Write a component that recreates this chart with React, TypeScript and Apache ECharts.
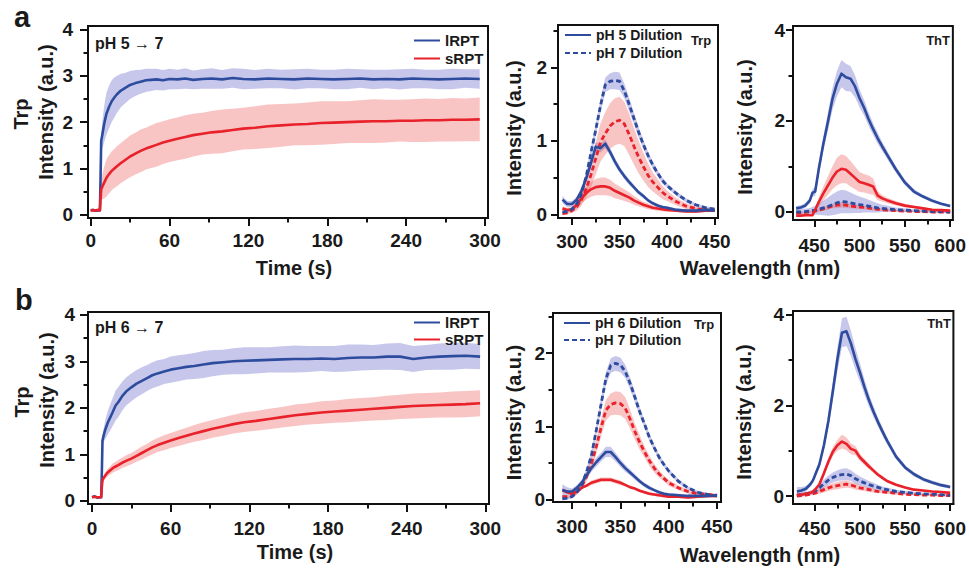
import React, { useEffect, useRef } from 'react';
import * as echarts from 'echarts';

const FONT = 'Arial, "Liberation Sans", Helvetica, sans-serif';
const BLUE = '#2e4c9e';
const RED = '#e8212a';
const BLUE_BAND = 'rgba(100,100,200,0.36)';
const RED_BAND = 'rgba(235,70,70,0.32)';
const INK = '#1a1a1a';

// ---------------- tick labels ----------------
const timeTicks = [0, 60, 120, 180, 240, 300];
const timeMinor = [30, 90, 150, 210, 270];
const kinTicks = [0, 1, 2, 3, 4];
const kinMinor = [0.5, 1.5, 2.5, 3.5];
const trpWlTicks = [300, 350, 400, 450];
const trpWlMinor = [325, 375, 425];
const trpIntTicks = [0, 1, 2];
const trpIntMinor = [0.5, 1.5, 2.5];
const thtWlTicks = [450, 500, 550, 600];
const thtWlMinor = [475, 525, 575];
const thtIntTicks = [0, 2, 4];
const thtIntMinor = [1, 3];

// ---------------- kinetics (Trp intensity vs time) ----------------
const timeS = [0, 2, 4, 6, 7, 7.5, 8, 9, 10, 11, 12, 14, 16, 18, 20, 23, 26, 30, 34, 38, 42, 46, 50, 55, 60, 66, 72, 78, 85, 92, 100, 108, 116, 125, 135, 145, 155, 165, 175, 185, 195, 205, 215, 225, 235, 245, 255, 265, 275, 285, 296];

// pH 5 -> 7
const lrptA = [0.1, 0.11, 0.09, 0.1, 0.1, 0.8, 1.6, 1.75, 1.92, 2.06, 2.18, 2.33, 2.45, 2.53, 2.6, 2.68, 2.73, 2.8, 2.84, 2.87, 2.9, 2.91, 2.92, 2.9, 2.93, 2.92, 2.94, 2.91, 2.93, 2.94, 2.92, 2.95, 2.93, 2.92, 2.94, 2.93, 2.92, 2.94, 2.93, 2.92, 2.93, 2.94, 2.92, 2.93, 2.92, 2.94, 2.93, 2.92, 2.93, 2.94, 2.93];
const lrptAErr = [0.02, 0.02, 0.02, 0.02, 0.02, 0.05, 0.15, 0.3, 0.38, 0.42, 0.45, 0.46, 0.45, 0.43, 0.4, 0.36, 0.33, 0.3, 0.28, 0.26, 0.25, 0.24, 0.23, 0.22, 0.22, 0.21, 0.22, 0.2, 0.21, 0.22, 0.2, 0.21, 0.22, 0.2, 0.21, 0.2, 0.22, 0.21, 0.2, 0.21, 0.22, 0.2, 0.21, 0.2, 0.22, 0.21, 0.2, 0.21, 0.22, 0.2, 0.21];
const srptA = [0.1, 0.1, 0.1, 0.11, 0.1, 0.35, 0.55, 0.62, 0.68, 0.74, 0.8, 0.88, 0.95, 1.0, 1.05, 1.12, 1.18, 1.26, 1.32, 1.38, 1.43, 1.47, 1.51, 1.56, 1.6, 1.64, 1.68, 1.72, 1.75, 1.78, 1.8, 1.83, 1.86, 1.88, 1.91, 1.93, 1.95, 1.96, 1.98, 1.99, 2.0, 2.01, 2.02, 2.02, 2.03, 2.03, 2.04, 2.04, 2.05, 2.05, 2.06];
const srptAErr = [0.02, 0.02, 0.02, 0.02, 0.02, 0.08, 0.2, 0.28, 0.33, 0.37, 0.4, 0.41, 0.42, 0.42, 0.43, 0.43, 0.44, 0.45, 0.45, 0.46, 0.45, 0.46, 0.47, 0.46, 0.46, 0.46, 0.47, 0.46, 0.45, 0.46, 0.47, 0.46, 0.45, 0.46, 0.47, 0.46, 0.45, 0.46, 0.47, 0.46, 0.45, 0.46, 0.47, 0.46, 0.45, 0.46, 0.47, 0.46, 0.47, 0.46, 0.47];

// pH 6 -> 7
const lrptB = [0.08, 0.1, 0.07, 0.08, 0.08, 0.6, 1.3, 1.42, 1.52, 1.6, 1.68, 1.8, 1.92, 2.05, 2.12, 2.25, 2.35, 2.44, 2.52, 2.58, 2.64, 2.7, 2.74, 2.78, 2.82, 2.85, 2.88, 2.9, 2.93, 2.96, 2.98, 3.0, 3.01, 3.02, 3.03, 3.04, 3.05, 3.05, 3.06, 3.05, 3.07, 3.08, 3.08, 3.1, 3.1, 3.05, 3.08, 3.1, 3.11, 3.12, 3.1];
const lrptBErr = [0.02, 0.02, 0.02, 0.02, 0.02, 0.05, 0.1, 0.15, 0.2, 0.23, 0.25, 0.28, 0.3, 0.32, 0.32, 0.31, 0.3, 0.3, 0.29, 0.29, 0.28, 0.28, 0.28, 0.27, 0.28, 0.28, 0.27, 0.28, 0.29, 0.28, 0.27, 0.28, 0.29, 0.28, 0.27, 0.28, 0.29, 0.28, 0.27, 0.28, 0.29, 0.28, 0.27, 0.28, 0.29, 0.28, 0.27, 0.28, 0.29, 0.28, 0.27];
const srptB = [0.08, 0.09, 0.08, 0.08, 0.08, 0.3, 0.45, 0.5, 0.54, 0.58, 0.61, 0.66, 0.71, 0.74, 0.77, 0.82, 0.86, 0.91, 0.97, 1.03, 1.09, 1.15, 1.2, 1.25, 1.3, 1.35, 1.4, 1.45, 1.5, 1.55, 1.6, 1.65, 1.69, 1.72, 1.76, 1.8, 1.84, 1.87, 1.9, 1.92, 1.94, 1.96, 1.98, 2.0, 2.02, 2.04, 2.05, 2.06, 2.07, 2.08, 2.1];
const srptBErr = [0.02, 0.02, 0.02, 0.02, 0.02, 0.03, 0.05, 0.06, 0.07, 0.08, 0.08, 0.09, 0.1, 0.1, 0.11, 0.11, 0.12, 0.12, 0.13, 0.14, 0.14, 0.15, 0.15, 0.16, 0.16, 0.17, 0.17, 0.18, 0.19, 0.19, 0.2, 0.2, 0.21, 0.21, 0.22, 0.22, 0.23, 0.23, 0.24, 0.24, 0.25, 0.25, 0.25, 0.26, 0.26, 0.27, 0.27, 0.27, 0.28, 0.28, 0.28];

// ---------------- Trp emission spectra ----------------
const wlTrp = [290, 295, 300, 305, 310, 315, 320, 325, 330, 335, 340, 345, 350, 355, 360, 365, 370, 375, 380, 385, 390, 395, 400, 410, 420, 430, 440, 450];

const trpA_l5 = [0.2, 0.14, 0.14, 0.2, 0.32, 0.49, 0.7, 0.92, 0.9, 0.96, 0.85, 0.72, 0.61, 0.52, 0.44, 0.37, 0.3, 0.25, 0.19, 0.15, 0.12, 0.1, 0.09, 0.06, 0.05, 0.05, 0.06, 0.05];
const trpA_l5Err = [0.05, 0.04, 0.04, 0.04, 0.04, 0.05, 0.05, 0.06, 0.06, 0.06, 0.05, 0.05, 0.04, 0.04, 0.04, 0.03, 0.03, 0.03, 0.02, 0.02, 0.02, 0.02, 0.02, 0.02, 0.02, 0.03, 0.03, 0.02];
const trpA_l7 = [0.03, 0.04, 0.07, 0.14, 0.28, 0.52, 0.84, 1.15, 1.48, 1.76, 1.81, 1.82, 1.81, 1.68, 1.5, 1.31, 1.12, 0.95, 0.8, 0.67, 0.56, 0.46, 0.39, 0.28, 0.19, 0.13, 0.09, 0.07];
const trpA_l7Err = [0.02, 0.02, 0.02, 0.03, 0.04, 0.05, 0.07, 0.08, 0.09, 0.1, 0.11, 0.12, 0.12, 0.1, 0.09, 0.08, 0.07, 0.06, 0.05, 0.05, 0.04, 0.04, 0.03, 0.03, 0.03, 0.02, 0.02, 0.02];
const trpA_s5 = [0.08, 0.06, 0.07, 0.13, 0.22, 0.29, 0.34, 0.37, 0.38, 0.38, 0.36, 0.32, 0.29, 0.26, 0.23, 0.19, 0.16, 0.13, 0.11, 0.09, 0.08, 0.07, 0.06, 0.05, 0.04, 0.04, 0.05, 0.05];
const trpA_s5Err = [0.03, 0.03, 0.03, 0.05, 0.07, 0.09, 0.1, 0.11, 0.12, 0.12, 0.11, 0.1, 0.09, 0.08, 0.07, 0.06, 0.05, 0.04, 0.04, 0.03, 0.03, 0.03, 0.02, 0.02, 0.02, 0.02, 0.02, 0.02];
const trpA_s7 = [0.01, 0.02, 0.05, 0.1, 0.2, 0.35, 0.54, 0.76, 0.98, 1.1, 1.2, 1.26, 1.28, 1.23, 1.09, 0.93, 0.78, 0.65, 0.53, 0.44, 0.37, 0.3, 0.25, 0.17, 0.11, 0.08, 0.06, 0.05];
const trpA_s7Err = [0.02, 0.02, 0.03, 0.05, 0.08, 0.12, 0.17, 0.22, 0.26, 0.29, 0.31, 0.32, 0.32, 0.3, 0.28, 0.25, 0.22, 0.19, 0.16, 0.13, 0.11, 0.09, 0.07, 0.05, 0.04, 0.03, 0.02, 0.02];

const trpB_l6 = [0.13, 0.11, 0.11, 0.16, 0.23, 0.33, 0.43, 0.51, 0.58, 0.65, 0.65, 0.58, 0.5, 0.43, 0.37, 0.31, 0.25, 0.2, 0.16, 0.13, 0.1, 0.08, 0.07, 0.06, 0.05, 0.05, 0.05, 0.06];
const trpB_l6Err = [0.08, 0.06, 0.04, 0.04, 0.04, 0.05, 0.05, 0.06, 0.06, 0.07, 0.07, 0.06, 0.05, 0.05, 0.04, 0.04, 0.03, 0.03, 0.03, 0.02, 0.02, 0.02, 0.02, 0.02, 0.02, 0.02, 0.02, 0.02];
const trpB_l7 = [0.01, 0.02, 0.04, 0.1, 0.2, 0.38, 0.6, 0.94, 1.3, 1.65, 1.83, 1.86, 1.84, 1.75, 1.59, 1.4, 1.2, 1.03, 0.85, 0.71, 0.58, 0.48, 0.39, 0.25, 0.16, 0.1, 0.07, 0.05];
const trpB_l7Err = [0.02, 0.02, 0.02, 0.03, 0.04, 0.05, 0.06, 0.07, 0.08, 0.09, 0.1, 0.1, 0.1, 0.09, 0.08, 0.07, 0.06, 0.05, 0.05, 0.04, 0.04, 0.03, 0.03, 0.03, 0.02, 0.02, 0.02, 0.02];
const trpB_s6 = [0.13, 0.1, 0.08, 0.11, 0.16, 0.19, 0.23, 0.25, 0.27, 0.27, 0.27, 0.25, 0.23, 0.2, 0.17, 0.15, 0.12, 0.1, 0.08, 0.07, 0.06, 0.05, 0.04, 0.04, 0.03, 0.04, 0.05, 0.05];
const trpB_s6Err = [0.03, 0.02, 0.02, 0.02, 0.02, 0.02, 0.03, 0.03, 0.03, 0.03, 0.03, 0.03, 0.03, 0.02, 0.02, 0.02, 0.02, 0.02, 0.02, 0.02, 0.02, 0.02, 0.02, 0.02, 0.02, 0.02, 0.02, 0.02];
const trpB_s7 = [0.04, 0.04, 0.05, 0.1, 0.18, 0.31, 0.49, 0.72, 0.98, 1.22, 1.3, 1.32, 1.31, 1.25, 1.1, 0.93, 0.78, 0.65, 0.53, 0.43, 0.35, 0.29, 0.23, 0.16, 0.11, 0.08, 0.07, 0.06];
const trpB_s7Err = [0.02, 0.02, 0.02, 0.03, 0.04, 0.06, 0.08, 0.1, 0.12, 0.14, 0.15, 0.16, 0.16, 0.15, 0.13, 0.11, 0.1, 0.08, 0.07, 0.06, 0.05, 0.04, 0.04, 0.03, 0.03, 0.02, 0.02, 0.02];

// ---------------- ThT emission spectra ----------------
const wlThT = [430, 435, 440, 445, 448, 451, 455, 460, 465, 470, 475, 480, 485, 490, 495, 500, 505, 510, 515, 520, 525, 530, 540, 550, 560, 570, 580, 590, 600];

const thtA_l5 = [0.08, 0.1, 0.14, 0.25, 0.42, 0.45, 0.95, 1.5, 1.98, 2.48, 2.82, 3.04, 2.96, 2.93, 2.76, 2.5, 2.29, 2.04, 1.82, 1.62, 1.44, 1.27, 0.94, 0.65, 0.45, 0.34, 0.25, 0.18, 0.13];
const thtA_l5Err = [0.05, 0.05, 0.05, 0.06, 0.08, 0.1, 0.12, 0.15, 0.2, 0.24, 0.28, 0.3, 0.3, 0.28, 0.24, 0.2, 0.17, 0.15, 0.13, 0.12, 0.1, 0.09, 0.07, 0.06, 0.05, 0.04, 0.04, 0.03, 0.03];
const thtA_s5 = [-0.08, -0.08, -0.07, -0.07, -0.07, 0.05, 0.22, 0.41, 0.58, 0.75, 0.89, 0.95, 0.93, 0.84, 0.75, 0.66, 0.63, 0.6, 0.56, 0.36, 0.3, 0.26, 0.19, 0.14, 0.11, 0.08, 0.05, 0.04, 0.03];
const thtA_s5Err = [0.02, 0.02, 0.02, 0.02, 0.02, 0.05, 0.1, 0.15, 0.2, 0.25, 0.3, 0.32, 0.3, 0.28, 0.25, 0.22, 0.2, 0.2, 0.18, 0.1, 0.07, 0.06, 0.05, 0.04, 0.03, 0.03, 0.02, 0.02, 0.02];
const thtA_l7 = [0.0, 0.0, 0.01, 0.02, 0.03, 0.04, 0.06, 0.09, 0.12, 0.16, 0.2, 0.23, 0.22, 0.2, 0.18, 0.16, 0.15, 0.13, 0.11, 0.09, 0.08, 0.07, 0.05, 0.04, 0.03, 0.02, 0.01, 0.01, 0.0];
const thtA_l7Err = [0.04, 0.05, 0.06, 0.07, 0.08, 0.1, 0.12, 0.16, 0.2, 0.23, 0.25, 0.26, 0.25, 0.23, 0.2, 0.18, 0.16, 0.14, 0.12, 0.1, 0.08, 0.07, 0.05, 0.04, 0.03, 0.03, 0.02, 0.02, 0.02];
const thtA_s7 = [-0.03, -0.02, -0.01, 0.0, 0.01, 0.02, 0.04, 0.07, 0.1, 0.13, 0.15, 0.16, 0.15, 0.13, 0.12, 0.11, 0.1, 0.09, 0.07, 0.06, 0.05, 0.04, 0.03, 0.02, 0.01, 0.01, 0.0, 0.0, 0.0];
const thtA_s7Err = [0.02, 0.02, 0.02, 0.02, 0.02, 0.03, 0.03, 0.04, 0.05, 0.05, 0.06, 0.06, 0.06, 0.05, 0.05, 0.04, 0.04, 0.04, 0.03, 0.03, 0.03, 0.02, 0.02, 0.02, 0.02, 0.02, 0.02, 0.02, 0.02];

const thtB_l6 = [0.1, 0.12, 0.16, 0.26, 0.35, 0.5, 0.7, 1.12, 1.66, 2.33, 3.02, 3.6, 3.63, 3.36, 3.02, 2.72, 2.4, 2.11, 1.86, 1.63, 1.42, 1.22, 0.87, 0.63, 0.48, 0.37, 0.3, 0.24, 0.2];
const thtB_l6Err = [0.1, 0.08, 0.06, 0.05, 0.05, 0.06, 0.08, 0.1, 0.14, 0.2, 0.26, 0.32, 0.32, 0.28, 0.24, 0.2, 0.17, 0.14, 0.12, 0.1, 0.09, 0.08, 0.06, 0.05, 0.05, 0.04, 0.04, 0.04, 0.04];
const thtB_s6 = [0.02, 0.03, 0.05, 0.07, 0.1, 0.16, 0.26, 0.5, 0.76, 0.98, 1.12, 1.2, 1.15, 1.04, 1.0, 0.85, 0.75, 0.65, 0.56, 0.47, 0.4, 0.33, 0.25, 0.19, 0.14, 0.12, 0.1, 0.09, 0.07];
const thtB_s6Err = [0.02, 0.02, 0.02, 0.02, 0.02, 0.03, 0.04, 0.06, 0.08, 0.1, 0.12, 0.15, 0.14, 0.12, 0.1, 0.08, 0.07, 0.06, 0.05, 0.04, 0.04, 0.03, 0.03, 0.02, 0.02, 0.02, 0.02, 0.02, 0.02];
const thtB_l7 = [0.02, 0.03, 0.05, 0.07, 0.09, 0.12, 0.18, 0.27, 0.35, 0.41, 0.45, 0.47, 0.48, 0.45, 0.38, 0.33, 0.29, 0.25, 0.22, 0.19, 0.16, 0.14, 0.1, 0.08, 0.06, 0.05, 0.04, 0.03, 0.02];
const thtB_l7Err = [0.04, 0.04, 0.04, 0.05, 0.05, 0.06, 0.07, 0.09, 0.1, 0.11, 0.12, 0.13, 0.13, 0.12, 0.11, 0.1, 0.09, 0.08, 0.07, 0.06, 0.05, 0.05, 0.04, 0.03, 0.03, 0.02, 0.02, 0.02, 0.02];
const thtB_s7 = [0.0, 0.01, 0.02, 0.04, 0.05, 0.07, 0.1, 0.14, 0.18, 0.21, 0.23, 0.25, 0.26, 0.24, 0.21, 0.18, 0.16, 0.14, 0.12, 0.1, 0.09, 0.08, 0.06, 0.04, 0.03, 0.02, 0.02, 0.01, 0.01];
const thtB_s7Err = [0.02, 0.02, 0.02, 0.03, 0.03, 0.04, 0.05, 0.06, 0.07, 0.07, 0.08, 0.08, 0.08, 0.07, 0.07, 0.06, 0.05, 0.05, 0.04, 0.04, 0.03, 0.03, 0.03, 0.02, 0.02, 0.02, 0.02, 0.02, 0.02];

// ---------------- layout (plot areas in px) ----------------
const PANELS = [
  { left: 88, top: 26, width: 400, height: 192, x: [-2.05, 302.3], y: [-0.065, 4.07], xT: timeTicks, xM: timeMinor, yT: kinTicks, yM: kinMinor, yMargin: 15, xMargin: 12.5, tick: 8 },
  { left: 558, top: 25, width: 160, height: 193, x: [285.3, 453.5], y: [-0.05, 2.575], xT: trpWlTicks, xM: trpWlMinor, yT: trpIntTicks, yM: trpIntMinor, yMargin: 11, xMargin: 14, tick: 7 },
  { left: 793, top: 26, width: 160, height: 194, x: [426.5, 603], y: [-0.176, 4.088], xT: thtWlTicks, xM: thtWlMinor, yT: thtIntTicks, yM: thtIntMinor, yMargin: 8, xMargin: 15.5, tick: 7 },
  { left: 88, top: 312, width: 401, height: 192, x: [-3.05, 302.8], y: [-0.065, 4.058], xT: timeTicks, xM: timeMinor, yT: kinTicks, yM: kinMinor, yMargin: 13, xMargin: 15, tick: 8 },
  { left: 553, top: 313, width: 168, height: 189, x: [280.3, 454.1], y: [-0.033, 2.548], xT: trpWlTicks, xM: trpWlMinor, yT: trpIntTicks, yM: trpIntMinor, yMargin: 8, xMargin: 14.8, tick: 7 },
  { left: 793, top: 311, width: 163, height: 193, x: [425.7, 603.6], y: [-0.176, 4.079], xT: thtWlTicks, xM: thtWlMinor, yT: thtIntTicks, yM: thtIntMinor, yMargin: 9, xMargin: 15, tick: 7 },
];

function lineSeries(name: string, x: number[], y: number[], gi: number, color: string, dashed: boolean) {
  return {
    type: 'line',
    name,
    xAxisIndex: gi * 2,
    yAxisIndex: gi * 2,
    data: x.map((v, i) => [v, y[i]]),
    symbol: 'none',
    showSymbol: false,
    silent: true,
    z: 3,
    lineStyle: { color, width: dashed ? 2.8 : 2.6, type: dashed ? [5, 3] : 'solid', cap: 'butt', join: 'round' },
    itemStyle: { color },
    emphasis: { disabled: true },
  };
}

function bandSeries(x: number[], y: number[], err: number[], gi: number, color: string) {
  const data = x.map((v, i) => [v, y[i] - err[i], y[i] + err[i]]);
  return {
    type: 'custom',
    xAxisIndex: gi * 2,
    yAxisIndex: gi * 2,
    data,
    encode: { x: 0, y: [1, 2] },
    silent: true,
    clip: true,
    z: 1,
    renderItem: (params: any, api: any) => {
      if (params.dataIndex !== 0) return null;
      const upper = data.map((d) => api.coord([d[0], d[2]]));
      const lower = data.map((d) => api.coord([d[0], d[1]])).reverse();
      return {
        type: 'polygon',
        shape: { points: upper.concat(lower) },
        style: { fill: color, stroke: null },
      };
    },
  };
}

function txt(text: string, x: number, y: number, size: number, align = 'center', rot = 0) {
  return {
    type: 'text',
    x,
    y,
    rotation: rot,
    silent: true,
    z: 10,
    style: {
      text,
      fill: INK,
      font: `bold ${size}px ${FONT}`,
      textAlign: align,
      textVerticalAlign: 'middle',
      align,
      verticalAlign: 'middle',
    },
  };
}

function buildOption() {
  const grid: any[] = [];
  const xAxis: any[] = [];
  const yAxis: any[] = [];
  const labelStyle = { fontFamily: FONT, fontWeight: 'bold', fontSize: 19, color: INK };
  const tickLine = { color: '#111', width: 2 };
  PANELS.forEach((p, gi) => {
    grid.push({ left: p.left, top: p.top, width: p.width, height: p.height, show: true, borderColor: '#111', borderWidth: 2, backgroundColor: 'transparent' });
    // main x axis: line, labels, all ticks (short)
    xAxis.push({
      type: 'value', gridIndex: gi, min: p.x[0], max: p.x[1], position: 'bottom',
      axisLine: { show: true, onZero: false, lineStyle: { color: '#111', width: 2 } },
      axisTick: { show: true, inside: false, length: 4.5, customValues: p.xT.concat(p.xM), lineStyle: tickLine },
      axisLabel: { show: true, customValues: p.xT, margin: p.xMargin, ...labelStyle },
      splitLine: { show: false },
    });
    // companion x axis: long major ticks
    xAxis.push({
      type: 'value', gridIndex: gi, min: p.x[0], max: p.x[1], position: 'bottom',
      axisLine: { show: false, onZero: false },
      axisTick: { show: true, inside: false, length: p.tick, customValues: p.xT, lineStyle: tickLine },
      axisLabel: { show: false },
      splitLine: { show: false },
    });
    yAxis.push({
      type: 'value', gridIndex: gi, min: p.y[0], max: p.y[1], position: 'left',
      axisLine: { show: true, onZero: false, lineStyle: { color: '#111', width: 2 } },
      axisTick: { show: true, inside: false, length: 4.5, customValues: p.yT.concat(p.yM), lineStyle: tickLine },
      axisLabel: { show: true, customValues: p.yT, margin: p.yMargin, ...labelStyle },
      splitLine: { show: false },
    });
    yAxis.push({
      type: 'value', gridIndex: gi, min: p.y[0], max: p.y[1], position: 'left',
      axisLine: { show: false, onZero: false },
      axisTick: { show: true, inside: false, length: p.tick, customValues: p.yT, lineStyle: tickLine },
      axisLabel: { show: false },
      splitLine: { show: false },
    });
  });

  const series: any[] = [
    // panel a: kinetics
    bandSeries(timeS, lrptA, lrptAErr, 0, BLUE_BAND),
    bandSeries(timeS, srptA, srptAErr, 0, RED_BAND),
    lineSeries('lRPT', timeS, lrptA, 0, BLUE, false),
    lineSeries('sRPT', timeS, srptA, 0, RED, false),
    // panel a: Trp spectra
    bandSeries(wlTrp, trpA_l7, trpA_l7Err, 1, BLUE_BAND),
    bandSeries(wlTrp, trpA_l5, trpA_l5Err, 1, BLUE_BAND),
    bandSeries(wlTrp, trpA_s7, trpA_s7Err, 1, RED_BAND),
    bandSeries(wlTrp, trpA_s5, trpA_s5Err, 1, RED_BAND),
    lineSeries('sRPT pH 7 Dilution (a)', wlTrp, trpA_s7, 1, RED, true),
    lineSeries('sRPT pH 5 Dilution', wlTrp, trpA_s5, 1, RED, false),
    lineSeries('pH 7 Dilution', wlTrp, trpA_l7, 1, BLUE, true),
    lineSeries('pH 5 Dilution', wlTrp, trpA_l5, 1, BLUE, false),
    // panel a: ThT spectra
    bandSeries(wlThT, thtA_l5, thtA_l5Err, 2, BLUE_BAND),
    bandSeries(wlThT, thtA_l7, thtA_l7Err, 2, BLUE_BAND),
    bandSeries(wlThT, thtA_s5, thtA_s5Err, 2, RED_BAND),
    bandSeries(wlThT, thtA_s7, thtA_s7Err, 2, RED_BAND),
    lineSeries('ThT sRPT pH 7 (a)', wlThT, thtA_s7, 2, RED, true),
    lineSeries('ThT lRPT pH 7 (a)', wlThT, thtA_l7, 2, BLUE, true),
    lineSeries('ThT sRPT pH 5', wlThT, thtA_s5, 2, RED, false),
    lineSeries('ThT lRPT pH 5', wlThT, thtA_l5, 2, BLUE, false),
    // panel b: kinetics
    bandSeries(timeS, lrptB, lrptBErr, 3, BLUE_BAND),
    bandSeries(timeS, srptB, srptBErr, 3, RED_BAND),
    lineSeries('lRPT', timeS, lrptB, 3, BLUE, false),
    lineSeries('sRPT', timeS, srptB, 3, RED, false),
    // panel b: Trp spectra
    bandSeries(wlTrp, trpB_l7, trpB_l7Err, 4, BLUE_BAND),
    bandSeries(wlTrp, trpB_l6, trpB_l6Err, 4, BLUE_BAND),
    bandSeries(wlTrp, trpB_s7, trpB_s7Err, 4, RED_BAND),
    bandSeries(wlTrp, trpB_s6, trpB_s6Err, 4, RED_BAND),
    lineSeries('sRPT pH 7 Dilution (b)', wlTrp, trpB_s7, 4, RED, true),
    lineSeries('sRPT pH 6 Dilution', wlTrp, trpB_s6, 4, RED, false),
    lineSeries('pH 7 Dilution', wlTrp, trpB_l7, 4, BLUE, true),
    lineSeries('pH 6 Dilution', wlTrp, trpB_l6, 4, BLUE, false),
    // panel b: ThT spectra
    bandSeries(wlThT, thtB_l6, thtB_l6Err, 5, BLUE_BAND),
    bandSeries(wlThT, thtB_l7, thtB_l7Err, 5, BLUE_BAND),
    bandSeries(wlThT, thtB_s6, thtB_s6Err, 5, RED_BAND),
    bandSeries(wlThT, thtB_s7, thtB_s7Err, 5, RED_BAND),
    lineSeries('ThT sRPT pH 7 (b)', wlThT, thtB_s7, 5, RED, true),
    lineSeries('ThT lRPT pH 7 (b)', wlThT, thtB_l7, 5, BLUE, true),
    lineSeries('ThT sRPT pH 6', wlThT, thtB_s6, 5, RED, false),
    lineSeries('ThT lRPT pH 6', wlThT, thtB_l6, 5, BLUE, false),
  ];

  const legendBase = {
    show: true, orient: 'vertical', padding: 0, itemWidth: 26, itemHeight: 14, selectedMode: false,
    itemStyle: { opacity: 0, borderWidth: 0 },
    textStyle: { fontFamily: FONT, fontWeight: 'bold', color: INK },
  };
  const legend = [
    { ...legendBase, left: 413, top: 33, itemGap: 3, data: ['lRPT', 'sRPT'], textStyle: { ...legendBase.textStyle, fontSize: 15 } },
    { ...legendBase, left: 413, top: 315, itemGap: 2, data: ['lRPT', 'sRPT'], textStyle: { ...legendBase.textStyle, fontSize: 15 } },
    { ...legendBase, left: 564, top: 28, itemGap: 4, data: ['pH 5 Dilution', 'pH 7 Dilution'], textStyle: { ...legendBase.textStyle, fontSize: 14 } },
    { ...legendBase, left: 563, top: 316, itemGap: 3, data: ['pH 6 Dilution', 'pH 7 Dilution'], textStyle: { ...legendBase.textStyle, fontSize: 14 } },
  ];

  const R = Math.PI / 2;
  const graphic = {
    elements: [
      txt('a', 14, 17, 29, 'left'),
      txt('b', 15, 300, 29, 'left'),
      txt('pH 5 \u2192 7', 95, 43.5, 16, 'left'),
      txt('pH 6 \u2192 7', 95, 327.5, 16, 'left'),
      txt('Trp', 701, 40, 13),
      txt('Trp', 704, 324, 13),
      txt('ThT', 950, 40.5, 13, 'right'),
      txt('ThT', 951, 323.5, 13, 'right'),
      txt('Trp', 21.2, 114, 20, 'center', R),
      txt('Intensity (a.u.)', 45.7, 112, 20, 'center', R),
      txt('Trp', 22.4, 402, 20, 'center', R),
      txt('Intensity (a.u.)', 47.4, 400, 20, 'center', R),
      txt('Intensity (a.u.)', 514.1, 128, 20, 'center', R),
      txt('Intensity (a.u.)', 744.7, 127, 20, 'center', R),
      txt('Intensity (a.u.)', 514.1, 412.5, 20, 'center', R),
      txt('Intensity (a.u.)', 744, 412, 20, 'center', R),
      txt('Time (s)', 294, 268, 20),
      txt('Time (s)', 295, 551.5, 20),
      txt('Wavelength (nm)', 760, 268, 20),
      txt('Wavelength (nm)', 760, 554.5, 20),
    ],
  };

  return {
    animation: false,
    backgroundColor: '#ffffff',
    textStyle: { fontFamily: FONT },
    grid,
    xAxis,
    yAxis,
    legend,
    series,
    graphic,
  };
}

export default function App() {
  const ref = useRef<HTMLDivElement>(null);
  useEffect(() => {
    if (!ref.current) return;
    const chart = echarts.init(ref.current, null, { renderer: 'svg' });
    chart.setOption(buildOption() as any);
    return () => chart.dispose();
  }, []);
  return <div ref={ref} style={{ position: 'absolute', left: 0, top: 0, width: 969, height: 568, background: '#fff' }} />;
}
